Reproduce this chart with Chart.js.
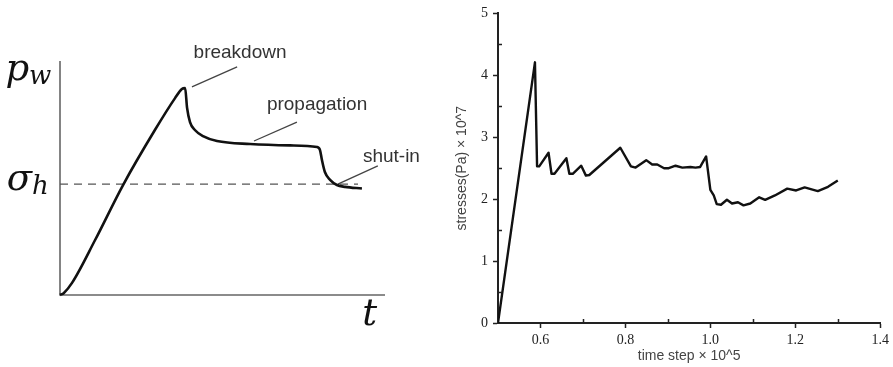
<!DOCTYPE html>
<html>
<head>
<meta charset="utf-8">
<script src="https://cdn.jsdelivr.net/npm/chart.js@4.4.1/dist/chart.umd.min.js"></script>
<style>
  html, body { margin: 0; padding: 0; background: #fff; }
  #wrap { position: relative; width: 893px; height: 367px; overflow: hidden; }
  #left { position: absolute; left: 0; top: 0; width: 420px; height: 367px; }
  #right { position: absolute; left: 420px; top: 0; width: 473px; height: 367px; }
</style>
</head>
<body>
<div id="wrap">
  <div id="left"><canvas id="schemeChart"></canvas></div>
  <div id="right"><canvas id="stressChart"></canvas></div>
</div>
<script>
// --- DATA: schematic (left) ---
const pwTime  = [0, 0.12, 0.37, 1.08, 1.94, 2.92, 3.54, 3.75, 3.85, 3.91, 4.00, 4.15, 4.40, 4.83, 5.85, 7.08, 7.91, 8.00, 8.06, 8.15, 8.31, 8.52, 8.77, 9.29];
const pwValue = [0, 0.09, 0.52, 2.36, 4.72, 7.08, 8.45, 8.84, 8.88, 8.03, 7.42, 7.08, 6.82, 6.61, 6.48, 6.42, 6.35, 6.22, 5.79, 5.28, 4.94, 4.72, 4.64, 4.57];
const sigmaH = 4.76;
const sigmaEnd = 9.17;
const axisTop = 10.04;
const axisRight = 10;

// leader lines: [x1, y1, x2, y2]
const leaders = [
  [4.06, 8.93, 5.45, 9.79],   // breakdown
  [5.97, 6.61, 7.29, 7.42],   // propagation
  [8.55, 4.76, 9.78, 5.54]    // shut-in
];
const noteText = ['breakdown', 'propagation', 'shut-in'];
const noteX    = [5.54, 7.91, 9.32];
const noteY    = [10.39, 8.15, 5.92];
const noteAlign = ['center', 'center', 'left'];

// math labels: main symbol, subscript, position
const mathMain = ['p', 'σ', 't'];
const mathSub  = ['w', 'h', ''];
const mathX    = [-1.68, -1.64, 9.30];
const mathY    = [9.23, 4.51, -1.29];

// --- DATA: stress curve (right) ---
const stepX = [0.500, 0.587, 0.592, 0.597, 0.619, 0.626, 0.633, 0.661, 0.668, 0.676,
               0.696, 0.707, 0.715, 0.788, 0.813, 0.824, 0.849, 0.863, 0.875, 0.891,
               0.902, 0.918, 0.934, 0.953, 0.965, 0.976, 0.990, 1.000, 1.008, 1.015,
               1.025, 1.039, 1.051, 1.065, 1.078, 1.094, 1.115, 1.129, 1.152, 1.181,
               1.202, 1.222, 1.253, 1.277, 1.300];
const stressY = [0, 4.21, 2.53, 2.53, 2.75, 2.41, 2.41, 2.66, 2.41, 2.41,
                 2.54, 2.38, 2.39, 2.83, 2.53, 2.51, 2.63, 2.56, 2.56, 2.50,
                 2.50, 2.54, 2.51, 2.52, 2.51, 2.52, 2.69, 2.15, 2.06, 1.92,
                 1.91, 1.99, 1.93, 1.95, 1.90, 1.93, 2.03, 1.99, 2.06, 2.17,
                 2.14, 2.19, 2.13, 2.20, 2.30];
const xTicks = [0.6, 0.8, 1.0, 1.2, 1.4];
const yTicks = [0, 1, 2, 3, 4, 5];
const xMinor = [0.7, 0.9, 1.1, 1.3];
const yMinor = [0.5, 1.5, 2.5, 3.5, 4.5];

Chart.defaults.animation = false;
Chart.defaults.plugins.legend.display = false;
Chart.defaults.plugins.tooltip.enabled = false;

// --- LEFT: schematic ---
const schemeLabels = {
  id: 'schemeLabels',
  afterDatasetsDraw(chart) {
    const { ctx, scales: { x, y } } = chart;
    ctx.save();
    ctx.fillStyle = '#333';
    ctx.font = '19px "Liberation Sans", Arial, sans-serif';
    ctx.textBaseline = 'middle';
    noteText.forEach((t, i) => {
      ctx.textAlign = noteAlign[i];
      ctx.fillText(t, x.getPixelForValue(noteX[i]), y.getPixelForValue(noteY[i]));
    });
    ctx.fillStyle = '#111';
    ctx.textAlign = 'left';
    ctx.textBaseline = 'alphabetic';
    mathMain.forEach((m, i) => {
      const px = x.getPixelForValue(mathX[i]);
      const py = y.getPixelForValue(mathY[i]);
      ctx.font = 'italic 37px "DejaVu Serif", "Liberation Serif", serif';
      ctx.fillText(m, px, py);
      if (mathSub[i]) {
        const w = ctx.measureText(m).width;
        ctx.font = 'italic 26px "DejaVu Serif", "Liberation Serif", serif';
        ctx.fillText(mathSub[i], px + w, py + 4);
      }
    });
    ctx.restore();
  }
};

const thin = { pointRadius: 0, fill: false, tension: 0 };

new Chart(document.getElementById('schemeChart'), {
  type: 'line',
  data: {
    datasets: [
      { ...thin, data: pwTime.map((t, i) => ({ x: t, y: pwValue[i] })),
        borderColor: '#111', borderWidth: 2.6, cubicInterpolationMode: 'monotone' },
      { ...thin, data: [{ x: 0, y: sigmaH }, { x: sigmaEnd, y: sigmaH }],
        borderColor: '#555', borderWidth: 1.4, borderDash: [8, 6] },
      { ...thin, data: [{ x: 0, y: axisTop }, { x: 0, y: 0 }, { x: axisRight, y: 0 }],
        borderColor: '#666', borderWidth: 1.6 },
      ...leaders.map(l => ({ ...thin, data: [{ x: l[0], y: l[1] }, { x: l[2], y: l[3] }],
        borderColor: '#444', borderWidth: 1.3 }))
    ]
  },
  options: {
    responsive: true,
    maintainAspectRatio: false,
    layout: { padding: 0 },
    scales: {
      x: { type: 'linear', display: false, min: -60 / 32.5, max: 360 / 32.5 },
      y: { type: 'linear', display: false, min: -72 / 23.3, max: 295 / 23.3 }
    }
  },
  plugins: [schemeLabels]
});

// --- RIGHT: stresses ---
const minorTicks = {
  id: 'minorTicks',
  afterDraw(chart) {
    const { ctx, scales: { x, y } } = chart;
    ctx.save();
    ctx.strokeStyle = '#222';
    ctx.lineWidth = 1.5;
    ctx.beginPath();
    yMinor.forEach(v => {
      const py = Math.round(y.getPixelForValue(v)) + 0.5;
      ctx.moveTo(x.left, py);
      ctx.lineTo(x.left + 4, py);
    });
    xMinor.forEach(v => {
      const px = Math.round(x.getPixelForValue(v)) + 0.5;
      ctx.moveTo(px, y.bottom);
      ctx.lineTo(px, y.bottom - 4);
    });
    ctx.stroke();
    ctx.restore();
  }
};

const tickFont = { family: '"Liberation Serif", "Times New Roman", serif', size: 14 };
const titleFont = { family: '"Liberation Sans", Arial, sans-serif', size: 14 };

new Chart(document.getElementById('stressChart'), {
  type: 'line',
  data: {
    datasets: [{
      data: stepX.map((v, i) => ({ x: v, y: stressY[i] })),
      borderColor: '#111',
      borderWidth: 2.4,
      pointRadius: 0,
      tension: 0,
      borderJoinStyle: 'round',
      fill: false
    }]
  },
  options: {
    responsive: true,
    maintainAspectRatio: false,
    layout: { padding: { left: 30, right: 11, top: 13, bottom: 0 } },
    scales: {
      x: {
        type: 'linear',
        min: 0.5,
        max: 1.4,
        afterBuildTicks: s => { s.ticks = xTicks.map(v => ({ value: v })); },
        afterFit: s => { s.height = 44; },
        grid: { drawOnChartArea: false, tickLength: 5, tickColor: '#222', tickWidth: 1.5 },
        border: { color: '#222', width: 2 },
        ticks: { color: '#222', font: tickFont, padding: 4, maxRotation: 0,
                 callback: v => v.toFixed(1) },
        title: { display: true, text: 'time step × 10^5', color: '#444', font: titleFont,
                 padding: { top: 0, bottom: 2 } }
      },
      y: {
        type: 'linear',
        min: 0,
        max: 5,
        afterBuildTicks: s => { s.ticks = yTicks.map(v => ({ value: v })); },
        afterFit: s => { s.width = 48; },
        grid: { drawOnChartArea: false, tickLength: 5, tickColor: '#222', tickWidth: 1.5 },
        border: { color: '#222', width: 2 },
        ticks: { color: '#222', font: tickFont, padding: 5, callback: v => String(v) },
        title: { display: true, text: 'stresses(Pa) × 10^7', color: '#444', font: titleFont,
                 padding: { top: 4, bottom: 0 } }
      }
    }
  },
  plugins: [minorTicks]
});
</script>
</body>
</html>
